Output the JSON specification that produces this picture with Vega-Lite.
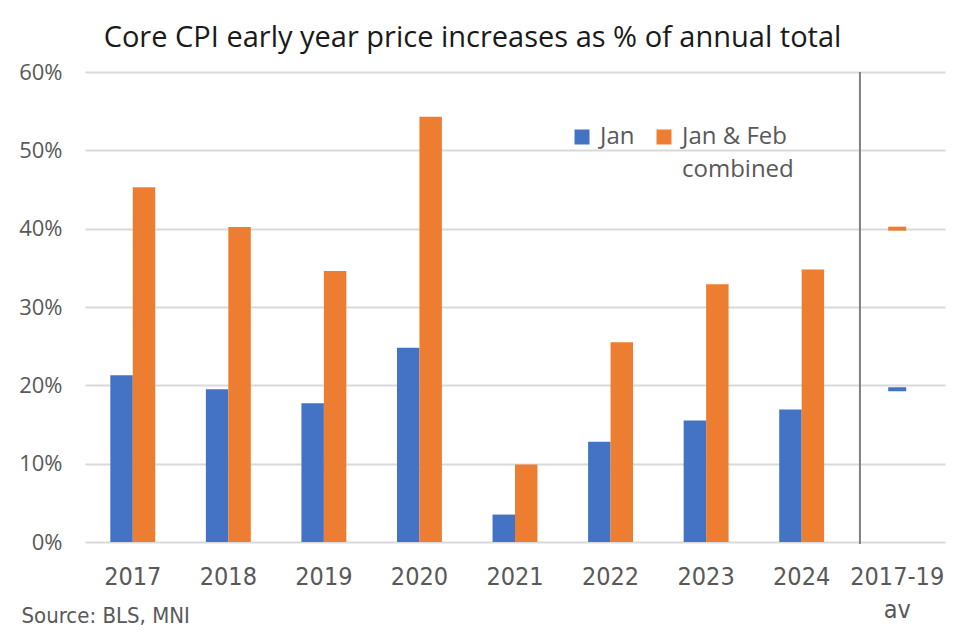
{
  "$schema": "https://vega.github.io/schema/vega-lite/v6.json",
  "width": 860,
  "height": 470,
  "autosize": {"type": "none"},
  "padding": {"left": 85, "top": 72, "right": 30, "bottom": 97},
  "background": "white",
  "title": {
    "text": "Core CPI early year price increases as % of annual total",
    "anchor": "start",
    "dx": 85,
    "offset": 8,
    "font": "Open Sans",
    "fontSize": 29,
    "fontWeight": "normal",
    "color": "#1a1a1a"
  },
  "config": {
    "view": {"stroke": null},
    "axis": {"domain": false, "ticks": false},
    "style": {"guide-label": {"lineHeight": 33}}
  },
  "data": {
    "values": [
      {"year": "2017", "series": "Jan", "value": 21.3},
      {"year": "2017", "series": "Jan & Feb combined", "value": 45.3},
      {"year": "2018", "series": "Jan", "value": 19.5},
      {"year": "2018", "series": "Jan & Feb combined", "value": 40.2},
      {"year": "2019", "series": "Jan", "value": 17.7},
      {"year": "2019", "series": "Jan & Feb combined", "value": 34.6},
      {"year": "2020", "series": "Jan", "value": 24.8},
      {"year": "2020", "series": "Jan & Feb combined", "value": 54.3},
      {"year": "2021", "series": "Jan", "value": 3.5},
      {"year": "2021", "series": "Jan & Feb combined", "value": 9.9},
      {"year": "2022", "series": "Jan", "value": 12.8},
      {"year": "2022", "series": "Jan & Feb combined", "value": 25.5},
      {"year": "2023", "series": "Jan", "value": 15.5},
      {"year": "2023", "series": "Jan & Feb combined", "value": 32.9},
      {"year": "2024", "series": "Jan", "value": 16.9},
      {"year": "2024", "series": "Jan & Feb combined", "value": 34.8},
      {"year": "2017-19 av", "series": "Jan", "value": 19.5},
      {"year": "2017-19 av", "series": "Jan & Feb combined", "value": 40.0}
    ]
  },
  "encoding": {
    "x": {
      "field": "year",
      "type": "nominal",
      "sort": null,
      "scale": {"paddingInner": 0.53, "paddingOuter": 0.265},
      "axis": {
        "title": "Source: BLS, MNI",
        "titleAnchor": "start",
        "titleAlign": "left",
        "titleX": -64,
        "titleY": 63,
        "titleFont": "DejaVu Sans Condensed, Open Sans",
        "titleFontSize": 22,
        "titleFontWeight": "normal",
        "titleColor": "#595959",
        "labelAngle": 0,
        "labelFont": "DejaVu Sans Condensed, Open Sans",
        "labelFontSize": 25,
        "labelColor": "#595959",
        "labelPadding": 42,
        "labelLineHeight": 33,
        "labelBaseline": "alphabetic",
        "labelExpr": "datum.label == '2017-19 av' ? ['2017-19', 'av'] : datum.label",
        "grid": false
      }
    }
  },
  "layer": [
    {
      "transform": [{"filter": "datum.year != '2017-19 av'"}],
      "mark": {"type": "bar"},
      "encoding": {
        "y": {
          "field": "value",
          "type": "quantitative",
          "scale": {"domain": [0, 60]},
          "axis": {
            "title": null,
            "values": [0, 10, 20, 30, 40, 50, 60],
            "labelExpr": "datum.value + '%'",
            "labelFont": "Open Sans",
            "labelFontSize": 22,
            "labelColor": "#595959",
            "labelPadding": 23,
            "gridColor": "#d9d9d9",
            "gridWidth": 2
          }
        },
        "xOffset": {"field": "series", "type": "nominal", "scale": {"paddingInner": 0, "paddingOuter": 0}},
        "color": {
          "field": "series",
          "type": "nominal",
          "scale": {"domain": ["Jan", "Jan & Feb combined"], "range": ["#4472C4", "#ED7D31"]},
          "legend": {
            "title": null,
            "orient": "none",
            "legendX": 485,
            "legendY": 53,
            "direction": "horizontal",
            "symbolType": "square",
            "symbolSize": 225,
            "symbolStrokeWidth": 0,
            "labelFont": "Open Sans",
            "labelFontSize": 24,
            "labelColor": "#595959",
            "labelBaseline": "middle",
            "labelOffset": 6,
            "columnPadding": 17,
            "labelExpr": "datum.label == 'Jan & Feb combined' ? ['Jan & Feb', 'combined'] : ['Jan', '']"
          }
        }
      }
    },
    {
      "transform": [{"filter": "datum.year == '2017-19 av'"}],
      "mark": {"type": "tick", "orient": "horizontal", "size": 18, "thickness": 4, "opacity": 1},
      "encoding": {
        "y": {"field": "value", "type": "quantitative"},
        "color": {"field": "series", "type": "nominal", "legend": null}
      }
    },
    {
      "transform": [{"filter": "datum.year == '2017-19 av' && datum.series == 'Jan'"}],
      "mark": {"type": "rule", "color": "#808080", "strokeWidth": 2, "y": 0, "y2": {"expr": "height + 2"}},
      "encoding": {
        "x": {"field": "year", "type": "nominal", "sort": null, "bandPosition": -0.33}
      }
    }
  ]
}
